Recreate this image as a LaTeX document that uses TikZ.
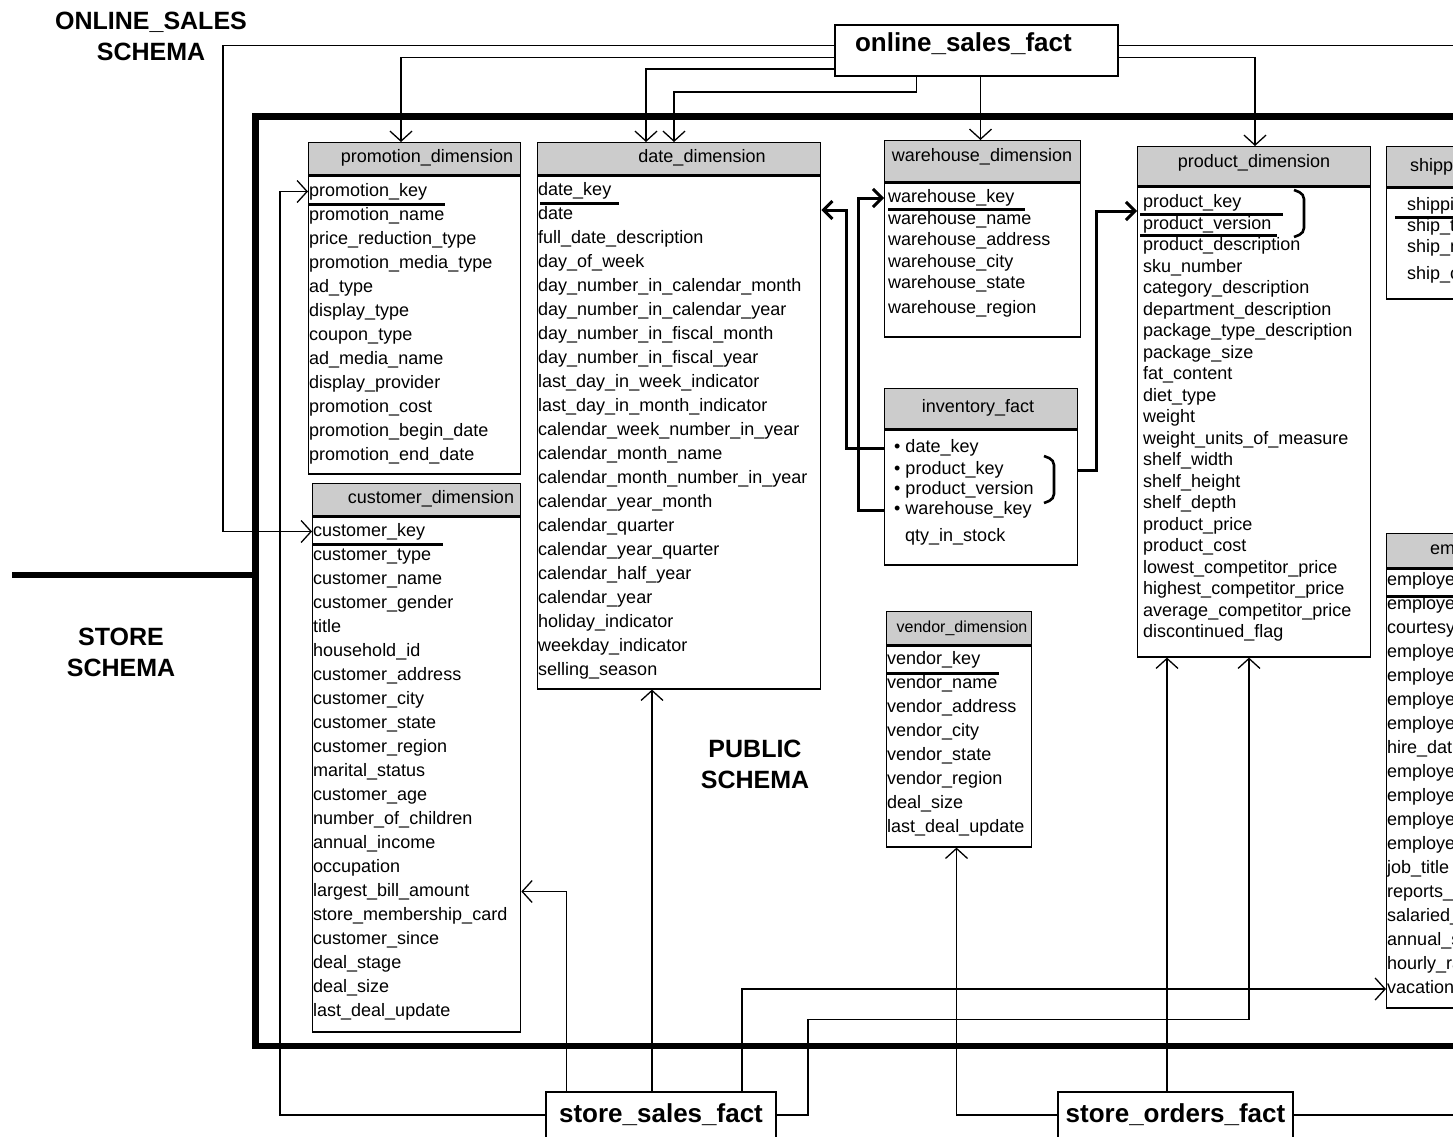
\documentclass[tikz,border=0pt]{standalone}
\usepackage{fontspec}
\setmainfont{Liberation Sans}
\usetikzlibrary{arrows.meta,calc}

\tikzset{
    tblhead/.style={draw, line width=1.3pt, fill=gray!40, anchor=north west, inner sep=0pt},
    tblbody/.style={draw, line width=1.3pt, fill=white, anchor=north west, inner sep=0pt},
    tbltitle/.style={font=\fontsize{18}{20}\selectfont, inner sep=0pt},
    field/.style={font=\fontsize{18}{20}\selectfont, anchor=west, inner sep=0pt,
                  text height=13pt, text depth=4pt},
    keyline/.style={line width=3pt},
    fact/.style={draw, line width=1.5pt, fill=white, inner sep=0pt,
                 font=\bfseries\fontsize{26}{28}\selectfont},
    schema/.style={font=\bfseries\fontsize{25}{31}\selectfont, align=center},
    fklink/.style={line width=1.3pt, -{Straight Barb[length=10pt,width=22pt]}},
    rline/.style={line width=1.3pt},
    invlink/.style={line width=3pt, -{Straight Barb[length=9pt,width=18pt]}},
    bracket/.style={line width=2.6pt, rounded corners=5pt}
}

\begin{document}
\begin{tikzpicture}[x=1pt, y=-1pt]
  \useasboundingbox (0,0) rectangle (1453,1136);
  \fill[white] (0,0) rectangle (1453,1136);
  \clip (0,0) rectangle (1453,1136);
  \coordinate (osf-out) at (1460,45.5);
  \coordinate (sof-out) at (1460,1115);

  % Store schema frame
  \draw[line width=6.5pt] (1470,116.5) -| (255.5,1046) -- (1470,1046);
  \draw[line width=6.5pt] (12,575) -- (255.5,575);

  % Schema labels
  \node[schema] (online-lbl) at (151,36) {ONLINE\_SALES\\SCHEMA};
  \node[schema] (store-lbl) at (121,652) {STORE\\SCHEMA};
  \node[schema] (public-lbl) at (755,764) {PUBLIC\\SCHEMA};

  % promotion_dimension
  \node[tblhead, minimum width=212pt, minimum height=32pt] (promo) at (308,142) {};
  \node[tblbody, minimum width=212pt, minimum height=298pt] (promo-body) at (promo.south west) {};
  \node[tbltitle] (promo-title) at (427,158) {promotion\_dimension};
  \foreach \f [count=\i] in {promotion\_key, promotion\_name, price\_reduction\_type,
      promotion\_media\_type, ad\_type, display\_type, coupon\_type, ad\_media\_name,
      display\_provider, promotion\_cost, promotion\_begin\_date, promotion\_end\_date}
    \node[field] (promo-\i) at (309,{191.5+24*(\i-1)}) {\f};
  \draw[keyline] ($(promo-1.west)+(-1,13)$) -- +(137,0);

  % customer_dimension
  \node[tblhead, minimum width=208pt, minimum height=32pt] (cust) at (312,483) {};
  \node[tblbody, minimum width=208pt, minimum height=515pt] (cust-body) at (cust.south west) {};
  \node[tbltitle] (cust-title) at (431,499) {customer\_dimension};
  \foreach \f [count=\i] in {customer\_key, customer\_type, customer\_name, customer\_gender,
      title, household\_id, customer\_address, customer\_city, customer\_state,
      customer\_region, marital\_status, customer\_age, number\_of\_children,
      annual\_income, occupation, largest\_bill\_amount, store\_membership\_card,
      customer\_since, deal\_stage, deal\_size, last\_deal\_update}
    \node[field] (cust-\i) at (313,{531.5+24*(\i-1)}) {\f};
  \draw[keyline] ($(cust-1.west)+(-1,13)$) -- +(131,0);

  % date_dimension
  \node[tblhead, minimum width=283pt, minimum height=32pt] (date) at (537,142) {};
  \node[tblbody, minimum width=283pt, minimum height=513pt] (date-body) at (date.south west) {};
  \node[tbltitle] (date-title) at (702,158) {date\_dimension};
  \foreach \f [count=\i] in {date\_key, date, full\_date\_description, day\_of\_week,
      day\_number\_in\_calendar\_month, day\_number\_in\_calendar\_year,
      day\_number\_in\_fiscal\_month, day\_number\_in\_fiscal\_year,
      last\_day\_in\_week\_indicator, last\_day\_in\_month\_indicator,
      calendar\_week\_number\_in\_year, calendar\_month\_name,
      calendar\_month\_number\_in\_year, calendar\_year\_month, calendar\_quarter,
      calendar\_year\_quarter, calendar\_half\_year, calendar\_year,
      holiday\_indicator, weekday\_indicator, selling\_season}
    \node[field] (date-\i) at (538,{191+24*(\i-1)}) {\f};
  \draw[keyline] ($(date-1.west)+(2,12)$) -- +(79,0);

  % warehouse_dimension
  \node[tblhead, minimum width=196pt, minimum height=41pt] (wh) at (884,140) {};
  \node[tblbody, minimum width=196pt, minimum height=154pt] (wh-body) at (wh.south west) {};
  \node[tbltitle] (wh-title) at (982,157) {warehouse\_dimension};
  \foreach \y/\f [count=\i] in {198/warehouse\_key, 219.5/warehouse\_name,
      241/warehouse\_address, 262.5/warehouse\_city, 283.5/warehouse\_state,
      309/warehouse\_region}
    \node[field] (wh-\i) at (888,\y) {\f};
  \draw[keyline] ($(wh-1.west)+(0,11)$) -- +(137,0);

  % inventory_fact
  \node[tblhead, minimum width=193pt, minimum height=40pt] (inv) at (884,388) {};
  \node[tblbody, minimum width=193pt, minimum height=135pt] (inv-body) at (inv.south west) {};
  \node[tbltitle] (inv-title) at (978,408) {inventory\_fact};
  \foreach \x/\y/\f [count=\i] in {894/448/{\textbullet\ date\_key},
      894/470/{\textbullet\ product\_key}, 894/490/{\textbullet\ product\_version},
      894/510/{\textbullet\ warehouse\_key}, 905/537/{qty\_in\_stock}}
    \node[field] (inv-\i) at (\x,\y) {\f};
  \draw[bracket] (1044,456) -- (1054,460) -- (1054,499) -- (1044,503);

  % product_dimension
  \node[tblhead, minimum width=233pt, minimum height=39pt] (prod) at (1137,146) {};
  \node[tblbody, minimum width=233pt, minimum height=470pt] (prod-body) at (prod.south west) {};
  \node[tbltitle] (prod-title) at (1254,163) {product\_dimension};
  \foreach \f [count=\i] in {product\_key, product\_version, product\_description,
      sku\_number, category\_description, department\_description,
      package\_type\_description, package\_size, fat\_content, diet\_type, weight,
      weight\_units\_of\_measure, shelf\_width, shelf\_height, shelf\_depth,
      product\_price, product\_cost, lowest\_competitor\_price,
      highest\_competitor\_price, average\_competitor\_price, discontinued\_flag}
    \node[field] (prod-\i) at (1143,{203+21.5*(\i-1)}) {\f};
  \draw[keyline] ($(prod-1.west)+(-3,11)$) -- +(143,0);
  \draw[keyline] ($(prod-2.west)+(-3,11)$) -- +(137,0);
  \draw[bracket] (1294,190) -- (1304,194) -- (1304,233) -- (1294,237);

  % shipping_dimension
  \node[tblhead, minimum width=200pt, minimum height=40pt] (ship) at (1386,146) {};
  \node[tblbody, minimum width=200pt, minimum height=111pt] (ship-body) at (ship.south west) {};
  \node[tbltitle, anchor=west] (ship-title) at (1410,167) {shipping\_dimension};
  \foreach \y/\f [count=\i] in {206/shipping\_key, 227/ship\_type, 248/ship\_mode,
      275/ship\_carrier}
    \node[field] (ship-\i) at (1407,\y) {\f};
  \draw[keyline] ($(ship-1.west)+(-12,11)$) -- +(160,0);

  % vendor_dimension
  \node[tblhead, minimum width=145pt, minimum height=33pt] (vend) at (886,611) {};
  \node[tblbody, minimum width=145pt, minimum height=201pt] (vend-body) at (vend.south west) {};
  \node[tbltitle, font=\fontsize{16}{18}\selectfont] (vend-title) at (962,628) {vendor\_dimension};
  \foreach \f [count=\i] in {vendor\_key, vendor\_name, vendor\_address, vendor\_city,
      vendor\_state, vendor\_region, deal\_size, last\_deal\_update}
    \node[field] (vend-\i) at (887,{660+24*(\i-1)}) {\f};
  \draw[keyline] ($(vend-1.west)+(0,13)$) -- +(112,0);

  % employee_dimension
  \node[tblhead, minimum width=200pt, minimum height=34pt] (emp) at (1386,533) {};
  \node[tblbody, minimum width=200pt, minimum height=439pt] (emp-body) at (emp.south west) {};
  \node[tbltitle, anchor=west] (emp-title) at (1430,550) {employee\_dimension};
  \foreach \f [count=\i] in {employee\_key, employee\_gender, courtesy\_title,
      employee\_first\_name, employee\_middle\_initial, employee\_last\_name,
      employee\_age, hire\_date, employee\_street\_address, employee\_city,
      employee\_state, employee\_region, job\_title, reports\_to, salaried\_flag,
      annual\_salary, hourly\_rate, vacation\_days}
    \node[field] (emp-\i) at (1387,{581+24*(\i-1)}) {\f};
  \draw[keyline] ($(emp-1.west)+(-1,15)$) -- +(160,0);

  % Fact tables
  \node[fact, minimum width=283pt, minimum height=51pt, text width=243pt, inner xsep=20pt,
        align=left, text height=19pt, text depth=17pt] (osf) at (976.5,50.5) {online\_sales\_fact};
  \node[fact, minimum width=230pt, minimum height=46pt] (ssf) at (661,1115) {store\_sales\_fact};
  \node[fact, minimum width=235pt, minimum height=46pt] (sof) at (1175.5,1115) {store\_orders\_fact};

  % online_sales_fact links
  \draw[fklink] (osf.west |- 0,45.5) -| (cust-1.west -| 223,0) -- (cust-1.west -| cust.west);
  \draw[fklink] (osf.west |- 0,57.5) -| (promo.north -| 401,0);
  \draw[fklink] (osf.west |- 0,69) -| (date.north -| 646,0);
  \draw[fklink] (osf.south -| 916.5,0) |- (674,92) -- (date.north -| 674,0);
  \draw[fklink] (osf.south -| 980.5,0) -- (wh.north -| 980.5,0);
  \draw[fklink] (osf.east |- 0,57.5) -| (prod.north -| 1255,0);
  \draw[rline] (osf.east |- osf-out) -- (osf-out);

  % store_sales_fact links
  \draw[fklink] (ssf.west) -| (promo-1.west -| 280,0) -- (promo-1.west -| promo.west);
  \draw[fklink] (ssf.north -| 566.5,0) |- (cust-16.west -| cust-body.east);
  \draw[fklink] (ssf.north -| 652,0) -- (date-body.south -| 652,0);
  \draw[fklink] (ssf.north -| 742,0) |- (emp-18.west -| emp.west);
  \draw[fklink] (ssf.east) -| (808,1019.5) -| (prod-body.south -| 1249,0);

  % store_orders_fact links
  \draw[fklink] (sof.west) -| (vend-body.south -| 956.5,0);
  \draw[fklink] (sof.north -| 1167,0) -- (prod-body.south -| 1167,0);
  \draw[rline] (sof.east) -- (sof-out);

  % inventory_fact links
  \draw[invlink] (inv-1.west -| inv.west) -| (846,210) -- (date-body.east |- 0,210);
  \draw[invlink] (inv-4.west -| inv.west) -| (858,198) -- (wh-1.west -| wh.west);
  \draw[invlink] (inv-2.west -| inv.east) -| (1096.5,211) -- (prod-body.west |- 0,211);
\end{tikzpicture}
\end{document}
